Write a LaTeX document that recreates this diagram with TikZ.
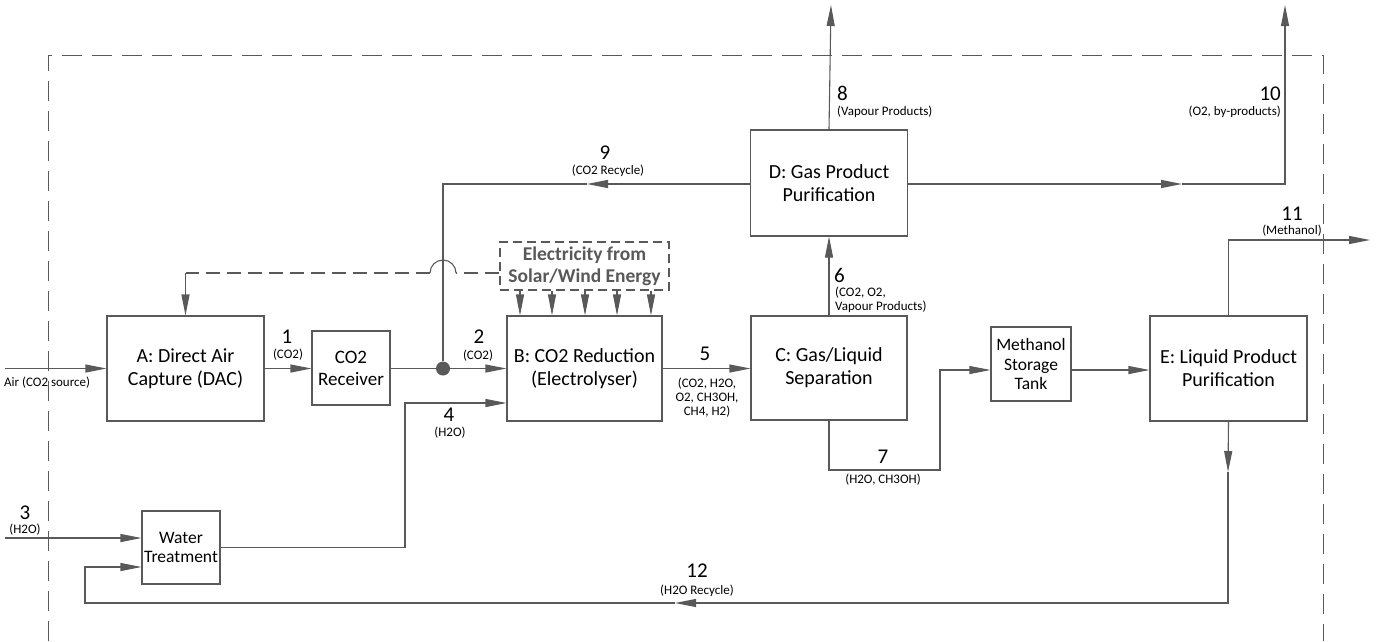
\documentclass[tikz,border=0pt]{standalone}
\usepackage{fontspec}
\setmainfont{Carlito}
\usepackage{xcolor}
\usepackage{tikz}
\usetikzlibrary{arrows.meta,calc,positioning}
\definecolor{ink}{HTML}{595959}
\tikzset{
  font=\fontsize{20}{23}\selectfont,
  unit/.style={draw=ink, line width=1.1pt, fill=white, align=center, inner sep=1pt},
  smallunit/.style={unit, font=\fontsize{17.5}{19.5}\selectfont},
  powerbox/.style={unit, dash pattern=on 9pt off 5pt, text=ink, font=\fontsize{19.5}{22}\selectfont\bfseries},
  pipe/.style={draw=ink, line width=1.1pt},
  flow/.style={pipe, -{Triangle[length=21pt,width=8pt]}},
  powerline/.style={pipe, dash pattern=on 14pt off 7pt},
  boundary/.style={pipe, line width=1pt, dash pattern=on 20pt off 10pt},
  junction/.style={circle, fill=ink, minimum size=14pt, inner sep=0pt},
  streamno/.style={font=\fontsize{21}{22}\selectfont, inner sep=0pt},
  streamtag/.style={font=\fontsize{13}{14}\selectfont, inner sep=0pt, align=center}
}

\begin{document}
\begin{tikzpicture}[x=1pt,y=-1pt]
  \useasboundingbox (0,0) rectangle (1384,641);

  % system boundary
  \draw[boundary] (48,641) -- (48,55) -- (1323,55) -- (1323,641);

  % process units
  \node[unit, minimum width=157pt, minimum height=105pt] (dac) at (185.5,368.5) {A: Direct Air\\Capture (DAC)};
  \node[unit, font=\fontsize{19}{22}\selectfont, minimum width=78pt, minimum height=74pt] (receiver) at (351,368) {CO2\\Receiver};
  \node[unit, minimum width=155pt, minimum height=105pt] (electrolyser) at (584.5,368.5) {B: CO2 Reduction\\(Electrolyser)};
  \node[powerbox, minimum width=169pt, minimum height=48pt] (power) at (584.5,266) {Electricity from\\Solar/Wind Energy};
  \node[unit, minimum width=156pt, minimum height=104pt] (gasliq) at (829,368) {C: Gas/Liquid\\Separation};
  \node[unit, minimum width=157pt, minimum height=106pt] (gaspur) at (829,183) {D: Gas Product\\Purification};
  \node[smallunit, minimum width=80pt, minimum height=74pt] (tank) at (1031,364) {Methanol\\Storage\\Tank};
  \node[unit, minimum width=157pt, minimum height=105pt] (liqpur) at (1228.5,368.5) {E: Liquid Product\\Purification};
  \node[smallunit, minimum width=78pt, minimum height=73pt] (water) at (181,547.5) {Water\\Treatment};
  \node[junction] (tee) at (443,368.5) {};

  % free ends and bends
  \coordinate (airin) at (5,368.5);
  \coordinate (waterin) at (5,538);
  \coordinate (hop) at (443,273);
  \coordinate (bend4) at (405,403);
  \coordinate (mid9) at (587,184);
  \coordinate (out8) at (831,5);
  \coordinate (mid10) at (1182,184);
  \coordinate (out10) at (1285,5);
  \coordinate (out11) at (1370,240);
  \coordinate (bend7) at (940,470);
  \coordinate (mid12a) at (1228,472);
  \coordinate (mid12b) at (675,603);
  \coordinate (bend12) at (85,603);

  % streams
  \draw[flow] (airin) -- (dac.west);
  \draw[flow] (dac.east) -- (receiver.west |- dac.east);
  \draw[pipe] (receiver.east |- tee) -- (tee);
  \draw[flow] (tee) -- (electrolyser.west |- tee);
  \draw[flow] (waterin) -- (water.west |- waterin);
  \draw[flow] (water.east) -| (bend4) -- (electrolyser.west |- bend4);
  \draw[flow] (electrolyser.east) -- (gasliq.west |- electrolyser.east);
  \draw[flow] (gasliq.north) -- (gaspur.south);
  \draw[flow] (gaspur.north) -- (out8);
  \draw[flow] (gaspur.east |- mid10) -- (mid10);
  \draw[flow] (mid10) -| (out10);
  \draw[flow] (gaspur.west |- mid9) -- (mid9);
  \draw[pipe] (mid9) -| (tee);
  \draw[flow] (gasliq.south) |- (bend7) |- ([yshift=-6pt]tank.west);
  \draw[flow] ([yshift=-6pt]tank.east) -- (liqpur.west |- 0,370);
  \draw[flow] (liqpur.north) |- (out11);
  \draw[flow] (liqpur.south) -- (mid12a);
  \draw[flow] (mid12a) |- (mid12b);
  \draw[flow] (mid12b) -- (bend12) |- ([yshift=-19.5pt]water.west);

  % electricity supply, hopping over stream 9
  \draw[powerline] (power.west |- hop) -- ($(hop)+(13,0)$);
  \draw[pipe] ($(hop)+(13,0)$) arc[start angle=0, end angle=180, radius=13pt];
  \draw[powerline] ($(hop)+(-13,0)$) -- (dac.north |- hop);
  \draw[flow] (dac.north |- hop) -- (dac.north);
  \foreach \px in {520,552,585,617,651} {
    \draw[flow] (power.south -| \px,0) -- (electrolyser.north -| \px,0);
  }

  % stream labels
  \node[streamtag, anchor=west] (airtag) at (4,383) {Air (CO2 source)};
  \node[streamno] (n1) at (287,337) {1};
  \node[streamtag] (t1) at (288,355) {(CO2)};
  \node[streamno] (n2) at (479,337) {2};
  \node[streamtag] (t2) at (478,356) {(CO2)};
  \node[streamno] (n3) at (25,513) {3};
  \node[streamtag] (t3) at (25,530) {(H2O)};
  \node[streamno] (n4) at (449,415) {4};
  \node[streamtag] (t4) at (450,433) {(H2O)};
  \node[streamno] (n5) at (705,354) {5};
  \node[streamtag] (t5) at (707,398) {(CO2, H2O,\\O2, CH3OH,\\CH4, H2)};
  \node[streamno, anchor=west] (n6) at (834,275) {6};
  \node[streamtag, anchor=north west, align=left] (t6) at (835,287) {(CO2, O2,\\Vapour Products)};
  \node[streamno] (n7) at (883,457) {7};
  \node[streamtag] (t7) at (883,480) {(H2O, CH3OH)};
  \node[streamno, anchor=west] (n8) at (837,93) {8};
  \node[streamtag, anchor=west] (t8) at (837,112) {(Vapour Products)};
  \node[streamno] (n9) at (605,153) {9};
  \node[streamtag] (t9) at (608,171) {(CO2 Recycle)};
  \node[streamno, anchor=east] (n10) at (1281,94) {10};
  \node[streamtag, anchor=east] (t10) at (1281,112) {(O2, by-products)};
  \node[streamno] (n11) at (1292,214) {11};
  \node[streamtag] (t11) at (1292,231) {(Methanol)};
  \node[streamno] (n12) at (697,571) {12};
  \node[streamtag] (t12) at (697,591) {(H2O Recycle)};
\end{tikzpicture}
\end{document}
